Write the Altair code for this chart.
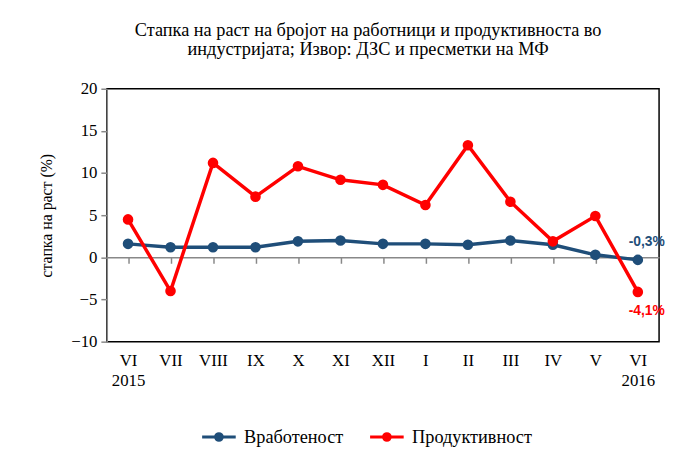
import altair as alt
import pandas as pd

months = ["VI 2015", "VII", "VIII", "IX", "X", "XI", "XII", "I", "II", "III", "IV", "V", "VI 2016"]
employment = [1.6, 1.2, 1.2, 1.2, 1.9, 2.0, 1.6, 1.6, 1.5, 2.0, 1.5, 0.3, -0.3]
productivity = [4.5, -4.0, 11.2, 7.2, 10.8, 9.2, 8.6, 6.2, 13.3, 6.6, 1.9, 4.9, -4.1]
series_names = ["Вработеност", "Продуктивност"]
series_colors = ["#1F4E79", "#FF0000"]
end_labels = ["-0,3%", "-4,1%"]
y_ticks = [-10, -5, 0, 5, 10, 15, 20]

rows = []
for i, m in enumerate(months):
    rows.append({"month": m, "series": series_names[0], "value": employment[i], "order": i})
    rows.append({"month": m, "series": series_names[1], "value": productivity[i], "order": i})
df = pd.DataFrame(rows)

lab = pd.DataFrame({
    "month": [months[-1], months[-1]],
    "series": series_names,
    "value": [employment[-1], productivity[-1]],
    "label": end_labels,
})

W, H = 559, 256
SERIF = "Liberation Serif"

xscale = alt.Scale(domain=months, paddingInner=0, paddingOuter=0)
yscale = alt.Scale(domain=[-10, 20], nice=False)
cscale = alt.Scale(domain=series_names, range=series_colors)

legend_symbol = (
    "M-1,0L1,0"
    "M-0.2,0A0.2,0.2 0 1,1 0.2,0A0.2,0.2 0 1,1 -0.2,0"
    "M-0.07,0A0.07,0.07 0 1,1 0.07,0A0.07,0.07 0 1,1 -0.07,0"
)

x_enc = alt.X(
    "month:N", sort=months, scale=xscale, title=None,
    axis=alt.Axis(
        orient="bottom",
        labelExpr="split(datum.value, ' ')", labelAngle=0, labelFont=SERIF,
        labelFontSize=17, labelColor="#000000", domain=False, ticks=False,
        labelPadding=11, labelLineHeight=20, labelBaseline="top",
    ),
)
y_enc = alt.Y(
    "value:Q", scale=yscale, title="стапка на раст (%)",
    axis=alt.Axis(
        values=y_ticks, grid=False, domainColor="#888888", domainWidth=1.5,
        tickColor="#888888", tickSize=6, tickWidth=1.5, labelFont=SERIF,
        labelFontSize=17, labelColor="#000000", labelPadding=4,
        titleFont=SERIF, titleFontSize=16, titleFontWeight="normal",
        titleColor="#000000", titlePadding=16,
    ),
)

base = alt.Chart(df)
lines = base.mark_line(strokeWidth=3.5).encode(
    x=x_enc, y=y_enc,
    color=alt.Color(
        "series:N", scale=cscale,
        legend=alt.Legend(
            title=None, orient="none", direction="horizontal",
            legendX=95, legendY=334,
            symbolType=legend_symbol,
            symbolSize=1156, symbolStrokeWidth=3,
            labelFont=SERIF, labelFontSize=18.5, labelColor="#000000",
            columnPadding=20, labelOffset=7,
        ),
    ),
    order="order:Q",
)
points = base.mark_point(filled=True, size=115, opacity=1).encode(
    x=alt.X("month:N", sort=months, scale=xscale, axis=None),
    y=y_enc,
    color=alt.Color("series:N", scale=cscale, legend=None),
)

zero_axis = alt.Chart(df).mark_point(opacity=0).encode(
    x=alt.X(
        "month:N", sort=months, scale=xscale, title=None,
        axis=alt.Axis(
            orient="bottom",
            offset=-H / 3, labels=False, domainColor="#888888", domainWidth=1.5,
            tickColor="#888888", tickSize=6, tickWidth=1.5, bandPosition=0,
            grid=False,
        ),
    ),
    y=y_enc,
)


def end_label(series, dy):
    return alt.Chart(lab).transform_filter(
        alt.datum.series == series
    ).mark_text(
        font="Liberation Sans", fontSize=14, fontWeight="bold", dy=dy
    ).encode(
        x=alt.X("month:N", sort=months, scale=xscale, axis=None),
        xOffset=alt.value(9),
        y=y_enc,
        text="label:N",
        color=alt.Color("series:N", scale=cscale, legend=None),
    )


labels_emp = end_label(series_names[0], -18)
labels_prod = end_label(series_names[1], 19)

chart = (
    alt.layer(zero_axis, lines, points, labels_emp, labels_prod)
    .resolve_axis(x="independent")
    .properties(
        width=W, height=H,
        autosize=alt.AutoSizeParams(type="none"),
        padding={"left": 100, "top": 79, "right": 6, "bottom": 111},
        title=alt.TitleParams(
            text=["Стапка на раст на бројот на работници и продуктивноста во",
                  "индустријата; Извор: ДЗС и пресметки на МФ"],
            font=SERIF, fontSize=18.5, fontWeight="normal", color="#000000",
            anchor="middle", dx=-15, offset=22, lineHeight=19,
        ),
    )
    .configure(background="white", view=alt.ViewConfig(stroke="#000000", strokeWidth=1.5))
)

chart.save("out.html", embed_options={"renderer": "svg", "actions": False})
